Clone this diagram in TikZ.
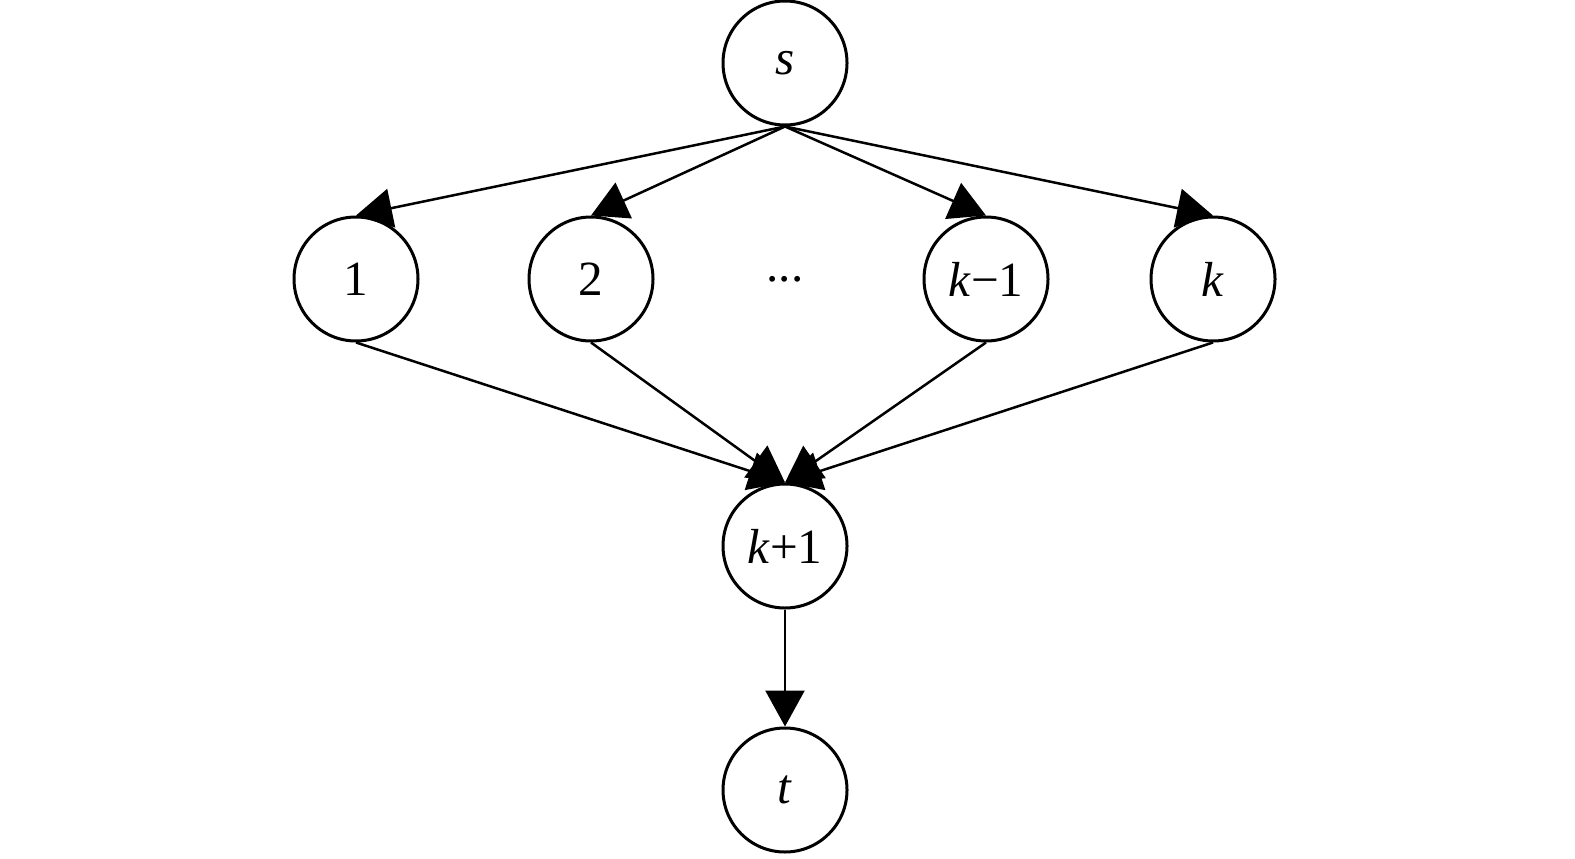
\documentclass[tikz,border=0pt]{standalone}
\usepackage{fontspec}
\setmainfont{Liberation Serif}
\usepackage{tikz}
\usetikzlibrary{arrows.meta,automata,positioning}
\tikzset{
>={Triangle[length=0.72cm,width=0.78cm]}, % big filled heads
node distance=4.7cm, % centre to centre
every state/.style={line width=0.06cm, minimum size=2.48cm, inner sep=0pt, fill=white}, % the circles
every edge/.style={draw, ->, line width=0.05cm}, % the connectors
}

\begin{document}
\begin{tikzpicture}[font=\fontsize{28}{30}\selectfont]
		\useasboundingbox (0,0) rectangle (31.5,17.16);
		\node[state] (s) at (15.7,15.9) {\textit{s}};
		\node[state] (1) at (7.12,11.58) {1};
		\node[state, right of=1, node distance=4.7cm] (2) {2};
		\node[right of=2, node distance=3.88cm] (dots) {...};
		\node[state, right of=dots, node distance=4.02cm] (k1) {\textit{k}−1};
		\node[state, right of=k1, node distance=4.54cm] (k) {\textit{k}};
		\node[state, below of=dots, node distance=5.34cm] (kp) {\textit{k}+1};
		\node[state, below of=kp, node distance=4.88cm] (t) {\textit{t}};
		\path (s.south) edge (1.north)
		(s.south) edge (2.north)
		(s.south) edge (k1.north)
		(s.south) edge (k.north)
		(1.south) edge (kp.north)
		(2.south) edge (kp.north)
		(k1.south) edge (kp.north)
		(k.south) edge (kp.north)
		(kp.south) edge (t.north);
	\end{tikzpicture}
\end{document}
